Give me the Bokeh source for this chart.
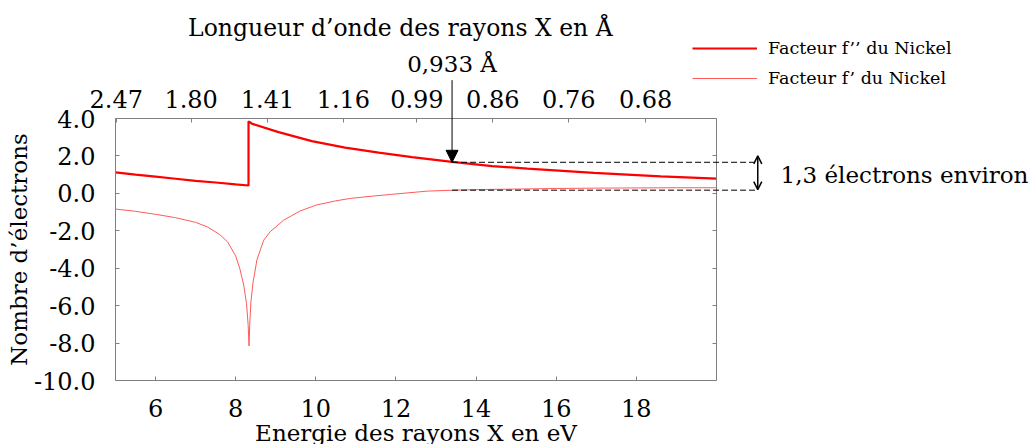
from bokeh.plotting import figure
from bokeh.models import (LinearAxis, FixedTicker, PrintfTickFormatter, Range1d, Arrow,
                          NormalHead, OpenHead, Label, Legend, LegendItem, CustomJSTickFormatter)
from bokeh.embed import file_html
from bokeh.resources import INLINE

# ---------------- data ----------------
# f'' (imaginary part) of Nickel, in electrons, vs X-ray energy
e_fpp = [5.0, 5.5, 6.0, 6.5, 7.0, 7.5, 8.0, 8.32, 8.32, 8.41, 9.07, 9.9, 10.73, 11.57,
         12.4, 13.4, 14.4, 15.28, 16.94, 18.61, 20.0]
fpp = [1.12, 1.0, 0.89, 0.78, 0.67, 0.58, 0.48, 0.42, 3.85, 3.72, 3.27, 2.79, 2.44, 2.18,
       1.94, 1.68, 1.46, 1.32, 1.09, 0.91, 0.79]

# f' (real part) of Nickel
e_fp = [5.0, 5.5, 6.0, 6.5, 7.0, 7.3, 7.6, 7.8, 8.0, 8.1, 8.2, 8.27, 8.31, 8.333, 8.35,
        8.38, 8.43, 8.53, 8.7, 8.86, 9.2, 9.6, 10.0, 10.5, 10.86, 11.4, 11.86, 12.78,
        13.44, 14.0, 15.0, 16.0, 17.0, 18.0, 19.0, 20.0]
fp = [-0.84, -0.96, -1.12, -1.3, -1.55, -1.8, -2.2, -2.6, -3.35, -4.0, -4.9, -5.9, -7.0,
      -8.15, -7.0, -5.8, -4.8, -3.55, -2.5, -2.05, -1.43, -0.95, -0.63, -0.4, -0.27,
      -0.15, -0.06, 0.12, 0.17, 0.2, 0.23, 0.26, 0.28, 0.29, 0.3, 0.3]

# top axis: wavelength labels (Angstrom) -> energy E = hc / lambda
wavelength_labels = ["2.47", "1.80", "1.41", "1.16", "0.99", "0.86", "0.76", "0.68"]
hc = 12.398
wavelength_ticks = [hc / float(w) for w in wavelength_labels]

x_bounds = (5, 20)
y_bounds = (-10, 4)
y_ticks = [-10, -8, -6, -4, -2, 0, 2, 4]
x_ticks = [6, 8, 10, 12, 14, 16, 18]

# annotation values
arrow_energy = 13.4          # 0.933 A
fpp_at_arrow = 1.66
fp_at_arrow = 0.17
arrow_top = 6.05
label_y_0933 = 6.9
bracket_energy = 21.03
bracket_top = 2.0
bracket_bottom = 0.2
text_energy = 21.6
text_y = 1.0
title_x = 12.11
title_y = 8.86

FONT = "DejaVu Serif"
GRAY = "#808080"

# the frame fills the whole canvas; the visible box is made of four fixed axes
W, H = 1032, 444
box_left, box_right, box_top, box_bottom = 115, 716, 118, 380
sx = (box_right - box_left) / (x_bounds[1] - x_bounds[0])
sy = (box_bottom - box_top) / (y_bounds[1] - y_bounds[0])
x_range = Range1d(x_bounds[0] - box_left / sx, x_bounds[1] + (W - box_right) / sx)
y_range = Range1d(y_bounds[0] - (H - box_bottom) / sy, y_bounds[1] + box_top / sy)

p = figure(width=W, height=H, x_range=x_range, y_range=y_range,
           output_backend="svg", toolbar_location=None, min_border=0,
           x_axis_location=None, y_axis_location=None)
p.grid.visible = False
p.outline_line_color = None
p.background_fill_color = "white"
p.border_fill_color = "white"


def style(ax):
    ax.axis_line_color = GRAY
    ax.major_tick_line_color = GRAY
    ax.major_tick_in = 4
    ax.major_tick_out = 0
    ax.minor_tick_line_color = None
    ax.major_label_text_font = FONT
    ax.major_label_text_font_size = "24px"
    ax.major_label_text_color = "black"
    ax.axis_label_text_font = FONT
    ax.axis_label_text_font_size = "23px"
    ax.axis_label_text_font_style = "normal"
    ax.axis_label_text_color = "black"


bottom = LinearAxis(ticker=FixedTicker(ticks=x_ticks), axis_label="Energie des rayons X en eV",
                    fixed_location=y_bounds[0], bounds=x_bounds)
style(bottom)
bottom.major_label_standoff = 18
bottom.axis_label_standoff = 0
p.add_layout(bottom, "below")

left = LinearAxis(ticker=FixedTicker(ticks=y_ticks), formatter=PrintfTickFormatter(format="%.1f"),
                  axis_label="Nombre d’électrons", fixed_location=x_bounds[0], bounds=y_bounds)
style(left)
left.major_label_standoff = 20
left.axis_label_standoff = -1
p.add_layout(left, "left")

top = LinearAxis(ticker=FixedTicker(ticks=wavelength_ticks),
                 major_label_overrides={t: l for t, l in zip(wavelength_ticks, wavelength_labels)},
                 fixed_location=y_bounds[1], bounds=x_bounds)
style(top)
top.major_label_standoff = 11
p.add_layout(top, "above")

right = LinearAxis(ticker=FixedTicker(ticks=y_ticks), fixed_location=x_bounds[1], bounds=y_bounds,
                   formatter=CustomJSTickFormatter(code="return ''"))
style(right)
p.add_layout(right, "right")

p.add_layout(Label(x=title_x, y=title_y, text="Longueur d’onde des rayons X en Å",
                   text_align="center", text_baseline="middle", text_font=FONT,
                   text_font_size="23.5px", text_color="black"))

r_fpp = p.line(e_fpp, fpp, line_color="#ff0000", line_width=2.2)
r_fp = p.line(e_fp, fp, line_color="#ff5a5a", line_width=1)

legend = Legend(items=[LegendItem(label="Facteur f’’ du Nickel", renderers=[r_fpp]),
                       LegendItem(label="Facteur f’ du Nickel", renderers=[r_fp])],
                location=(692, 356), glyph_width=65, glyph_height=20, label_height=20,
                spacing=10, label_standoff=11, padding=0, margin=0,
                border_line_color=None, background_fill_alpha=0,
                label_text_font=FONT, label_text_font_size="17.5px", label_text_color="black")
p.add_layout(legend, "center")

# vertical arrow pointing to 0.933 A
p.add_layout(Arrow(x_start=arrow_energy, y_start=arrow_top, x_end=arrow_energy, y_end=fpp_at_arrow,
                   line_color="black", line_width=1,
                   end=NormalHead(size=12, fill_color="black", line_color="black")))
p.add_layout(Label(x=arrow_energy, y=label_y_0933, text="0,933 Å", text_align="center",
                   text_baseline="middle", text_font=FONT, text_font_size="23px",
                   text_color="black"))

# dashed lines
for yv in (fpp_at_arrow, fp_at_arrow):
    p.add_layout(Arrow(x_start=arrow_energy, y_start=yv, x_end=bracket_energy, y_end=yv,
                       line_color="black", line_width=1, line_dash="6 3", end=None))

# double arrow
p.add_layout(Arrow(x_start=bracket_energy, y_start=bracket_bottom, x_end=bracket_energy,
                   y_end=bracket_top, line_color="black", line_width=1.5,
                   start=OpenHead(size=8, line_width=1.5), end=OpenHead(size=8, line_width=1.5)))
p.add_layout(Label(x=text_energy, y=text_y, text="1,3 électrons environ", text_align="left",
                   text_baseline="middle", text_font=FONT, text_font_size="23px",
                   text_color="black"))

open("out.html", "w").write(file_html(p, INLINE))
